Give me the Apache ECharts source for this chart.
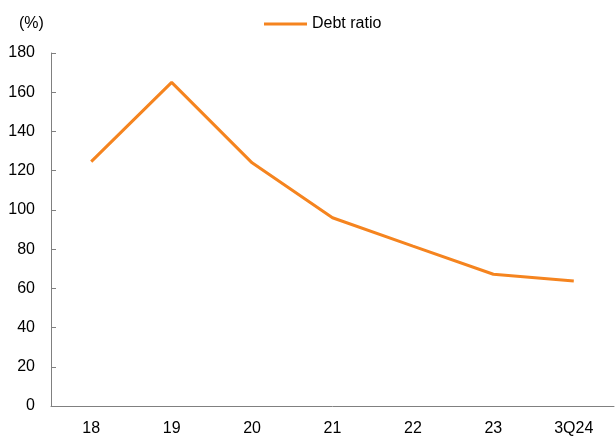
<!DOCTYPE html>
<html><head><meta charset="utf-8">
<script src="https://cdn.jsdelivr.net/npm/echarts@6/dist/echarts.min.js"></script>
<style>html,body{margin:0;padding:0;background:#fff}#c{width:616px;height:443px}</style>
</head><body><div id="c"></div>
<script>
const categories = ['18','19','20','21','22','23','3Q24'];
const debtRatio = [124.6, 165, 124, 96, 81.5, 67.2, 63.8];
const seriesName = 'Debt ratio';
const unitLabel = '(%)';

const chart = echarts.init(document.getElementById('c'));
const font = 'Liberation Sans, Arial, sans-serif';
chart.setOption({
  animation: false,
  backgroundColor: '#fff',
  textStyle: {fontFamily: font},
  grid: {left: 51, right: 2, top: 53, bottom: 37},
  legend: {
    data: [{name: seriesName, icon: 'rect'}],
    top: 16, left: 264, padding: 0,
    itemWidth: 43, itemHeight: 3, itemGap: 5,
    textStyle: {fontSize: 16, color: '#000', fontFamily: font}
  },
  graphic: [{
    type: 'text', left: 19, top: 16,
    style: {text: unitLabel, fontSize: 16, fill: '#000', fontFamily: font}
  }],
  xAxis: {
    type: 'category', data: categories, boundaryGap: true,
    axisLine: {lineStyle: {color: '#808080', width: 1}},
    axisTick: {inside: true, length: 5, lineStyle: {color: '#808080'}},
    axisLabel: {color: '#000', fontSize: 16, margin: 15, fontFamily: font},
    splitLine: {show: false}
  },
  yAxis: {
    type: 'value', min: 0, max: 180, interval: 20,
    axisLine: {show: true, lineStyle: {color: '#808080', width: 1}},
    axisTick: {show: true, inside: true, length: 5, lineStyle: {color: '#808080'}},
    axisLabel: {color: '#000', fontSize: 16, margin: 16, fontFamily: font},
    splitLine: {show: false}
  },
  series: [{
    name: seriesName, type: 'line', data: debtRatio,
    symbol: 'none',
    lineStyle: {color: '#F5841F', width: 3},
    itemStyle: {color: '#F5841F'}
  }]
});
</script></body></html>
